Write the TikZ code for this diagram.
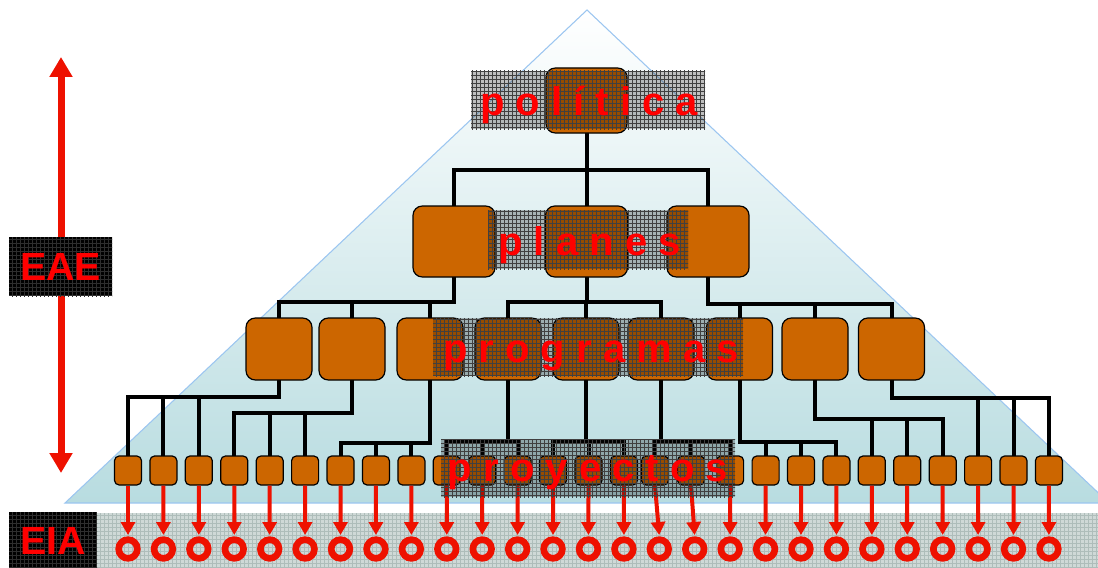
\documentclass[tikz,border=0pt]{standalone}
\usepackage{fontspec}
\setmainfont{Liberation Sans}
\usetikzlibrary{arrows.meta,patterns,backgrounds}
\definecolor{boxor}{HTML}{CC6600}
\definecolor{redtxt}{HTML}{FF0000}
\definecolor{arrred}{HTML}{EE1100}
\definecolor{tribot}{HTML}{B8DCE0}
\definecolor{triedge}{HTML}{9CC6F0}
\definecolor{eiabg}{HTML}{CFD9D7}
\definecolor{eiagrid}{HTML}{AEBDBA}
\newcommand\treeconn[5]{%
  \draw[conn] (#1.south) -- (#1.south |- 0,#5);
  \draw[conn] (#2.north) |- (#4.north |- 0,#5) -- (#4.north);
  \draw[conn] (#3.north) -- (#3.north |- 0,#5);
  \draw[conn] (#1.south |- 0,#5) -- (#2.north |- 0,#5);
}
\begin{document}
\begin{tikzpicture}[x=0.75pt,y=-0.75pt,
  bigbox/.style={draw=black,line width=0.9pt,fill=boxor,rounded corners=7pt,inner sep=0pt},
  polbox/.style={bigbox,minimum width=60.75pt,minimum height=48.75pt},
  planbox/.style={bigbox,minimum width=61.5pt,minimum height=53.25pt},
  progbox/.style={bigbox,minimum width=49.5pt,minimum height=46.5pt},
  proybox/.style={draw=black,line width=0.9pt,fill=boxor,rounded corners=3.5pt,inner sep=0pt,minimum width=20.25pt,minimum height=21.75pt},
  conn/.style={draw=black,line width=3pt,line cap=rect},
  ring/.style={circle,draw=arrred,line width=5pt,minimum size=14pt,inner sep=0pt},
  redarrow/.style={draw=arrred,line width=3pt,shorten >=1pt,-{Triangle[width=10.5pt,length=9.75pt]}},
  band/.style={fill=black,fill opacity=0.25},
  bandgrid/.style={pattern=grid,pattern color=black!75,fill opacity=0.4},
  lbl/.style={text=redtxt,font=\bfseries\fontsize{30}{32}\selectfont,inner sep=0pt,anchor=base},
  tag/.style={fill=black,text=redtxt,font=\bfseries\fontsize{29.5}{31}\selectfont,inner sep=0pt,
    postaction={pattern=grid,pattern color=black!82!white}}
]
\useasboundingbox (0,0) rectangle (1098,567);
\begin{scope}[on background layer]
  \shade[top color=white,bottom color=tribot] (587,10) -- (65,503) -- (1109,503) -- cycle;
  \draw[triedge,line width=0.8pt] (587,10) -- (65,503) -- (1109,503) -- cycle;
\end{scope}

% boxes
\node[polbox] (pol) at (586.5,100.5) {};
\node[planbox] (pl1) at (454,241.5) {};
\node[planbox] (pl2) at (586.5,241.5) {};
\node[planbox] (pl3) at (708,241.5) {};
\foreach \x [count=\i] in {279,352,430,508,586,661,739.5,815,891.5}
  \node[progbox] (pg\i) at (\x,349) {};
\foreach \x [count=\i] in {128,163.4,198.8,234.3,269.7,305.1,340.5,375.9,411.4,446.8,482.2,517.6,553,588.5,623.9,655,691,730.1,765.6,801,836.4,871.8,907.2,942.7,978.1,1013.5,1048.9}
  \node[proybox] (py\i) at (\x,470.5) {};

% connectors
\begin{scope}[on background layer]
  \treeconn{pol}{pl1}{pl2}{pl3}{170}
  \treeconn{pl1}{pg1}{pg2}{pg3}{302}
  \treeconn{pl2}{pg4}{pg5}{pg6}{302}
  \treeconn{pl3}{pg7}{pg8}{pg9}{304}
  \treeconn{pg1}{py1}{py2}{py3}{397}
  \treeconn{pg2}{py4}{py5}{py6}{413}
  \treeconn{pg3}{py7}{py8}{py9}{443}
  \treeconn{pg4}{py10}{py11}{py12}{442}
  \treeconn{pg5}{py13}{py14}{py15}{442}
  \treeconn{pg6}{py16}{py17}{py18}{442}
  \treeconn{pg7}{py19}{py20}{py21}{442}
  \treeconn{pg8}{py22}{py23}{py24}{419}
  \treeconn{pg9}{py25}{py26}{py27}{398}
\end{scope}

% EIA strip
\fill[eiabg] (97,513) rectangle (1098,567);
\fill[pattern=grid,pattern color=eiagrid] (97,513) rectangle (1098,567);

% rings and arrows
\foreach \i in {1,...,27}
  \node[ring] (r\i) at ({128+35.42*(\i-1)},549) {};
\foreach \i in {1,...,27}
  \draw[redarrow] (py\i.south) -- (r\i.north);

% textured bands
\foreach \a/\b/\c/\d in {471/71/705/129, 488/210/688/269, 433/318/743/376, 441/439/735/497}{
  \fill[band] (\a,\b) rectangle (\c,\d);
  \fill[bandgrid] (\a,\b) rectangle (\c,\d);
}

% labels
\node[lbl] (tpol) at (589,115) {p o l í t i c a};
\node[lbl] (tpl) at (589.5,255) {p l a n e s};
\node[lbl] (tpg) at (591,362) {p r o g r a m a s};
\node[lbl] (tpy) at (588,481) {p r o y e c t o s};

% EAE arrow and tags
\coordinate (eaetop) at (61,57);
\coordinate (eaebot) at (61,473);
\draw[arrred,line width=5.25pt,{Triangle[width=16.5pt,length=15pt]}-{Triangle[width=16.5pt,length=15pt]}] (eaetop) -- (eaebot);
\node[tag,minimum width=77.25pt,minimum height=44.25pt] (eae) at (60.5,266.5) {EAE};
\node[tag,minimum width=66pt,minimum height=43.5pt] (eia) at (53,541) {EIA};
\end{tikzpicture}
\end{document}
